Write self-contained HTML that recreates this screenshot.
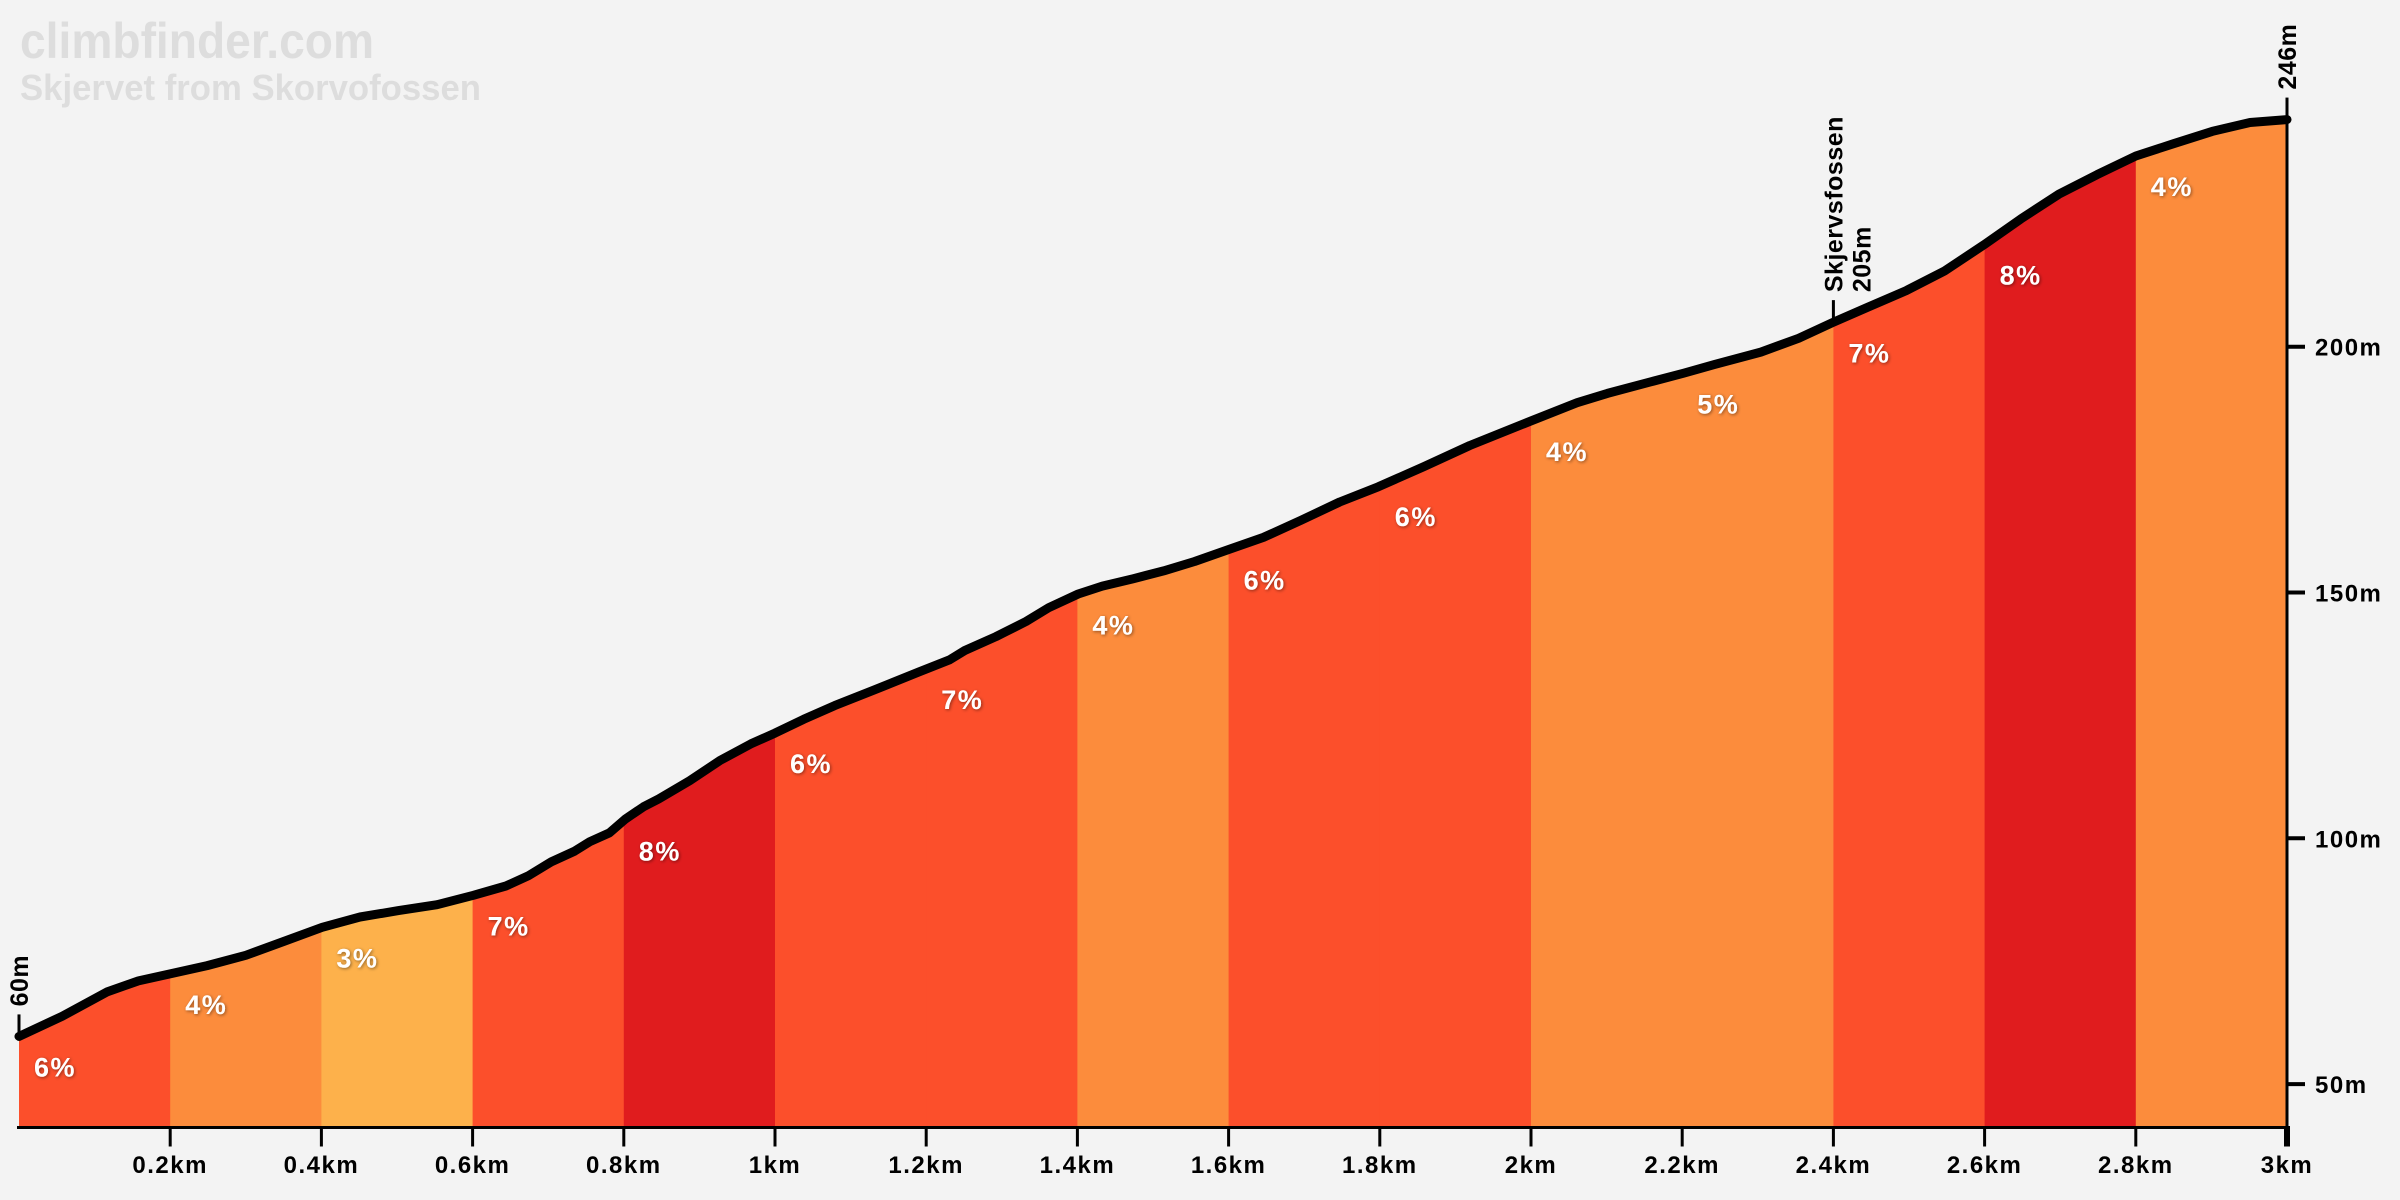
<!DOCTYPE html>
<html><head><meta charset="utf-8"><style>
html,body{margin:0;padding:0;background:#f3f3f3;}
svg{display:block;font-family:"Liberation Sans",sans-serif;font-weight:bold;}
</style></head><body>
<svg id="chart" width="2400" height="1200" viewBox="0 0 2400 1200" xmlns="http://www.w3.org/2000/svg">
<defs><filter id="ts" x="-20%" y="-20%" width="140%" height="140%"><feDropShadow dx="1" dy="1" stdDeviation="1.5" flood-color="#000" flood-opacity="0.45"/></filter></defs>
<text x="20" y="58" font-size="50" fill="#dddddd" textLength="354" lengthAdjust="spacingAndGlyphs">climbfinder.com</text>
<text x="20" y="100" font-size="36" fill="#dddddd" textLength="461" lengthAdjust="spacingAndGlyphs">Skjervet from Skorvofossen</text>
<g id="plot"></g>
</svg>
<script>
const distKm=[0,0.057,0.117,0.158,0.202,0.249,0.300,0.350,0.401,0.451,0.502,0.553,0.601,0.644,0.674,0.704,0.735,0.755,0.781,0.802,0.826,0.846,0.887,0.927,0.968,1.000,1.038,1.079,1.130,1.190,1.231,1.251,1.292,1.332,1.362,1.401,1.433,1.474,1.514,1.555,1.601,1.646,1.696,1.747,1.798,1.858,1.919,2.000,2.061,2.101,2.162,2.202,2.243,2.304,2.354,2.399,2.445,2.496,2.547,2.599,2.648,2.698,2.749,2.800,2.850,2.901,2.951,3.0];
const elevM=[59.7,63.8,68.8,71.0,72.5,74.1,76.2,79.0,81.9,84.0,85.3,86.5,88.4,90.3,92.4,95.2,97.4,99.3,101.1,103.9,106.4,108.0,111.7,115.8,119.2,121.4,124.2,127.0,130.1,133.8,136.3,138.2,141.0,144.1,146.9,149.7,151.3,152.8,154.4,156.3,158.8,161.2,164.7,168.4,171.5,175.6,179.9,184.9,188.6,190.5,193.0,194.6,196.4,198.9,201.7,204.9,208.0,211.4,215.4,220.7,226.0,231.0,235.0,238.8,241.3,243.8,245.6,246.2];
const segGrades=[6,4,3,7,8,6,7,4,6,6,4,5,7,8,4];
const xTicks=[0.2,0.4,0.6,0.8,1,1.2,1.4,1.6,1.8,2,2.2,2.4,2.6,2.8,3];
const xTickLabels=["0.2km","0.4km","0.6km","0.8km","1km","1.2km","1.4km","1.6km","1.8km","2km","2.2km","2.4km","2.6km","2.8km","3km"];
const yTicks=[50,100,150,200];
const markerKm=[2.4];
const markerNames=["Skjervsfossen"];
const markerElev=[205];

const NS="http://www.w3.org/2000/svg";
const X0=19,X1=2287,YB=1127.5;
const xs=d=>X0+d/3*(X1-X0);
const ys=e=>346.7+(200-e)*4.916;
const g=document.getElementById('plot');
function mk(t,a,p){const e=document.createElementNS(NS,t);for(const k in a)e.setAttribute(k,a[k]);(p||g).appendChild(e);return e;}
function elevAt(d){for(let i=1;i<distKm.length;i++){if(d<=distKm[i]){const t=(d-distKm[i-1])/(distKm[i]-distKm[i-1]);return elevM[i-1]+t*(elevM[i]-elevM[i-1]);}}return elevM[elevM.length-1];}
function color(p){return p>=8?'#e01c1e':p>=6?'#fc4f2b':p>=4?'#fc8c3c':'#fdb14b';}

let pts=distKm.map((d,i)=>xs(d).toFixed(1)+','+ys(elevM[i]).toFixed(1));
const cp=mk('clipPath',{id:'area'});
mk('path',{d:'M'+xs(0)+','+YB+' L'+pts.join(' L')+' L'+xs(3)+','+YB+' Z'},cp);

const segG=mk('g',{'clip-path':'url(#area)'});
segGrades.forEach((p,i)=>{
 const r=mk('rect',{x:xs(i*0.2),y:0,width:xs((i+1)*0.2)-xs(i*0.2)+0.5,height:YB,fill:color(p)},segG);
 
 
});
segGrades.forEach((p,i)=>{
 const t=mk('text',{x:xs(i*0.2)+15,y:ys(elevAt(i*0.2))+40,'font-size':27,'letter-spacing':1.5,fill:'#fff',filter:'url(#ts)'});
 t.textContent=p+'%';
 
 
});
const line=mk('polyline',{points:pts.join(' '),fill:'none',stroke:'#000','stroke-width':9,'stroke-linejoin':'round','stroke-linecap':'round'});



const xa=mk('line',{x1:X0-2,y1:YB,x2:X1+3,y2:YB,stroke:'#000','stroke-width':3});


const ya=mk('line',{x1:X1,y1:ys(246),x2:X1,y2:YB,stroke:'#000','stroke-width':3});


xTicks.forEach((d,i)=>{
 mk('line',{x1:xs(d),y1:YB,x2:xs(d),y2:YB+19,stroke:'#000','stroke-width':d===3?6:3});
 const t=mk('text',{x:xs(d),y:1173,'font-size':24,'letter-spacing':1.5,'text-anchor':'middle',fill:'#000'});
 t.textContent=xTickLabels[i];
 
 
});
yTicks.forEach(v=>{
 mk('line',{x1:X1,y1:ys(v),x2:X1+18,y2:ys(v),stroke:'#000','stroke-width':4});
 const t=mk('text',{x:X1+28,y:ys(v)+9,'font-size':24,'letter-spacing':1.5,fill:'#000'});
 t.textContent=v+'m';
 
 
});
function vlabel(x,y,lines,name){
 mk('line',{x1:x,y1:y-4,x2:x,y2:y-22,stroke:'#000','stroke-width':3});
 lines.forEach((s,j)=>{
  const yy=y-30;const xx=x+9+j*28;
  const t=mk('text',{x:xx,y:yy,'font-size':25,'letter-spacing':0.5,fill:'#000',transform:'rotate(-90 '+xx+' '+yy+')'});
  t.textContent=s;
  
  
 });
}
vlabel(xs(0),ys(elevM[0]),[Math.round(elevM[0])+'m'],'start-elevation-label');
vlabel(xs(3),ys(elevM[elevM.length-1]),[Math.round(elevM[elevM.length-1])+'m'],'end-elevation-label');
markerKm.forEach((d,i)=>vlabel(xs(d),ys(markerElev[i]),[markerNames[i],markerElev[i]+'m'],'waypoint-label'));
</script>
</body></html>
